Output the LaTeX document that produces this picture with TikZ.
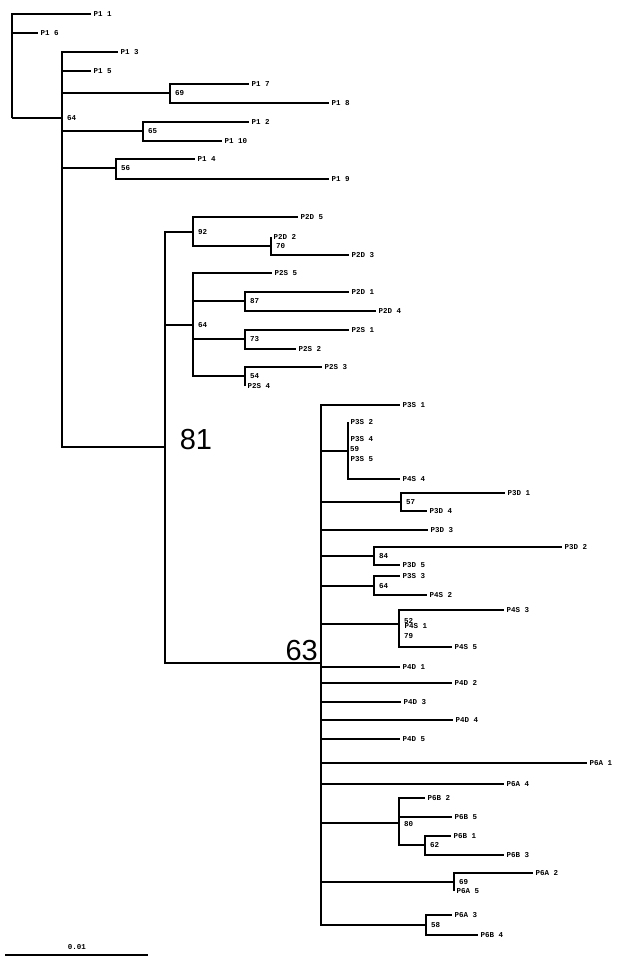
\documentclass[tikz,border=0pt]{standalone}
\usepackage{tikz}
\usepackage{fontspec}
\setmonofont{Liberation Mono}
\setsansfont{Liberation Sans}
\tikzstyle{br}=[line width=2pt]
\tikzstyle{lf}=[anchor=west, inner sep=2.5pt, font=\ttfamily\bfseries\fontsize{7.5}{7.5}\selectfont]
\tikzstyle{bs}=[anchor=west, inner sep=1pt, font=\ttfamily\bfseries\fontsize{7.5}{7.5}\selectfont]
\tikzstyle{big}=[inner sep=0pt, font=\sffamily\fontsize{29}{29}\selectfont]

\begin{document}
\begin{tikzpicture}[x=1pt,y=-1pt]
		\useasboundingbox (0,0) rectangle (625,964);
		% P1 group
		\coordinate (root) at (12,118);
		\coordinate (n64) at (62,118);
		\node[lf] (p11) at (91,14) {P1 1};
		\node[lf] (p16) at (38,33) {P1 6};
		\draw[br] (root) |- (p11.west);
		\draw[br] (root) |- (p16.west);
		\draw[br] (root) -- (n64);
		\node[bs] at (n64) [xshift=4pt] {64};
		\coordinate (n69) at (170,93);
		\coordinate (n65) at (143,131);
		\coordinate (n56) at (116,168);
		\coordinate (n81) at (165,447);
		\node[lf] (p13) at (118,52) {P1 3};
		\node[lf] (p15) at (91,71) {P1 5};
		\draw[br] (n64) |- (p13.west);
		\draw[br] (n64) |- (p15.west);
		\draw[br] (n64) |- (n69);
		\draw[br] (n64) |- (n65);
		\draw[br] (n64) |- (n56);
		\draw[br] (n64) |- (n81);
		\node[lf] (p17) at (249,84) {P1 7};
		\node[lf] (p18) at (329,103) {P1 8};
		\draw[br] (n69) |- (p17.west);
		\draw[br] (n69) |- (p18.west);
		\node[bs] at (n69) [xshift=4pt] {69};
		\node[lf] (p12) at (249,122) {P1 2};
		\node[lf] (p110) at (222,141) {P1 10};
		\draw[br] (n65) |- (p12.west);
		\draw[br] (n65) |- (p110.west);
		\node[bs] at (n65) [xshift=4pt] {65};
		\node[lf] (p14) at (195,159) {P1 4};
		\node[lf] (p19) at (329,179) {P1 9};
		\draw[br] (n56) |- (p14.west);
		\draw[br] (n56) |- (p19.west);
		\node[bs] at (n56) [xshift=4pt] {56};
		% P2 group
		\node[big] at (196,440) {81};
		\coordinate (n92) at (193,232);
		\coordinate (n64b) at (193,325);
		\coordinate (n63) at (321,663);
		\draw[br] (n81) |- (n92);
		\draw[br] (n81) |- (n64b);
		\draw[br] (n81) |- (n63);
		\node[lf] (p2d5) at (298,217) {P2D 5};
		\coordinate (n70) at (271,246);
		\draw[br] (n92) |- (p2d5.west);
		\draw[br] (n92) |- (n70);
		\node[bs] at (n92) [xshift=4pt] {92};
		\node[lf] (p2d2) at (271,237) {P2D 2};
		\node[lf] (p2d3) at (349,255) {P2D 3};
		\draw[br] (p2d2.west) |- (p2d3.west);
		\node[bs] at (n70) [xshift=4pt] {70};
		\node[lf] (p2s5) at (272,273) {P2S 5};
		\coordinate (n87) at (245,301);
		\coordinate (n73) at (245,339);
		\coordinate (n54) at (245,376);
		\draw[br] (n64b) |- (p2s5.west);
		\draw[br] (n64b) |- (n87);
		\draw[br] (n64b) |- (n73);
		\draw[br] (n64b) |- (n54);
		\node[bs] at (n64b) [xshift=4pt] {64};
		\node[lf] (p2d1) at (349,292) {P2D 1};
		\node[lf] (p2d4) at (376,311) {P2D 4};
		\draw[br] (n87) |- (p2d1.west);
		\draw[br] (n87) |- (p2d4.west);
		\node[bs] at (n87) [xshift=4pt] {87};
		\node[lf] (p2s1) at (349,330) {P2S 1};
		\node[lf] (p2s2) at (296,349) {P2S 2};
		\draw[br] (n73) |- (p2s1.west);
		\draw[br] (n73) |- (p2s2.west);
		\node[bs] at (n73) [xshift=4pt] {73};
		\node[lf] (p2s3) at (322,367) {P2S 3};
		\node[lf] (p2s4) at (245,386) {P2S 4};
		\draw[br] (p2s4.west) |- (p2s3.west);
		\node[bs] at (n54) [xshift=4pt] {54};
		% P3 to P6 group
		\node[big, anchor=south east] at (318,661) {63};
		\node[lf] (p3s1) at (400,405) {P3S 1};
		\coordinate (n59) at (348,451);
		\coordinate (n57) at (401,502);
		\node[lf] (p3d3) at (428,530) {P3D 3};
		\coordinate (n84) at (374,556);
		\coordinate (n64c) at (374,586);
		\coordinate (n52) at (399,624);
		\node[lf] (p4d1) at (400,667) {P4D 1};
		\node[lf] (p4d2) at (452,683) {P4D 2};
		\node[lf] (p4d3) at (401,702) {P4D 3};
		\node[lf] (p4d4) at (453,720) {P4D 4};
		\node[lf] (p4d5) at (400,739) {P4D 5};
		\node[lf] (p6a1) at (587,763) {P6A 1};
		\node[lf] (p6a4) at (504,784) {P6A 4};
		\coordinate (n80) at (399,823);
		\coordinate (n69b) at (454,882);
		\coordinate (n58) at (426,925);
		\foreach \t in {p3s1,p3d3,p4d1,p4d2,p4d3,p4d4,p4d5,p6a1,p6a4}
			\draw[br] (n63) |- (\t.west);
		\foreach \t in {n59,n57,n84,n64c,n52,n80,n69b,n58}
			\draw[br] (n63) |- (\t);
		\node[lf] (p3s2) at (348,422) {P3S 2};
		\node[lf] at (348,439) {P3S 4};
		\node[bs] at (349,449) {59};
		\node[lf] at (348,459) {P3S 5};
		\node[lf] (p4s4) at (400,479) {P4S 4};
		\draw[br] (p3s2.west) |- (p4s4.west);
		\node[lf] (p3d1) at (505,493) {P3D 1};
		\node[lf] (p3d4) at (427,511) {P3D 4};
		\draw[br] (n57) |- (p3d1.west);
		\draw[br] (n57) |- (p3d4.west);
		\node[bs] at (n57) [xshift=4pt] {57};
		\node[lf] (p3d2) at (562,547) {P3D 2};
		\node[lf] (p3d5) at (400,565) {P3D 5};
		\draw[br] (n84) |- (p3d2.west);
		\draw[br] (n84) |- (p3d5.west);
		\node[bs] at (n84) [xshift=4pt] {84};
		\node[lf] (p3s3) at (400,576) {P3S 3};
		\node[lf] (p4s2) at (427,595) {P4S 2};
		\draw[br] (n64c) |- (p3s3.west);
		\draw[br] (n64c) |- (p4s2.west);
		\node[bs] at (n64c) [xshift=4pt] {64};
		\node[lf] (p4s3) at (504,610) {P4S 3};
		\node[lf] (p4s5) at (452,647) {P4S 5};
		\draw[br] (n52) |- (p4s3.west);
		\draw[br] (n52) |- (p4s5.west);
		\node[bs] at (n52) [xshift=4pt,yshift=3pt] {52};
		\node[lf] at (n52) [xshift=3pt,yshift=-2pt] {P4S 1};
		\node[bs] at (n52) [xshift=4pt,yshift=-12pt] {79};
		\node[lf] (p6b2) at (425,798) {P6B 2};
		\node[lf] (p6b5) at (452,817) {P6B 5};
		\coordinate (n62) at (425,845);
		\draw[br] (n80) |- (p6b2.west);
		\draw[br] (n80) |- (p6b5.west);
		\draw[br] (n80) |- (n62);
		\node[bs] at (n80) [xshift=4pt,yshift=-1pt] {80};
		\node[lf] (p6b1) at (451,836) {P6B 1};
		\node[lf] (p6b3) at (504,855) {P6B 3};
		\draw[br] (n62) |- (p6b1.west);
		\draw[br] (n62) |- (p6b3.west);
		\node[bs] at (n62) [xshift=4pt] {62};
		\node[lf] (p6a2) at (533,873) {P6A 2};
		\node[lf] (p6a5) at (454,891) {P6A 5};
		\draw[br] (p6a5.west) |- (p6a2.west);
		\node[bs] at (n69b) [xshift=4pt] {69};
		\node[lf] (p6a3) at (452,915) {P6A 3};
		\node[lf] (p6b4) at (478,935) {P6B 4};
		\draw[br] (n58) |- (p6a3.west);
		\draw[br] (n58) |- (p6b4.west);
		\node[bs] at (n58) [xshift=4pt] {58};
		% scale bar
		\coordinate (sb1) at (5,955);
		\coordinate (sb2) at (148,955);
		\draw[br] (sb1) -- (sb2);
		\node[bs, anchor=south] at (77,951) {0.01};
\end{tikzpicture}
\end{document}
